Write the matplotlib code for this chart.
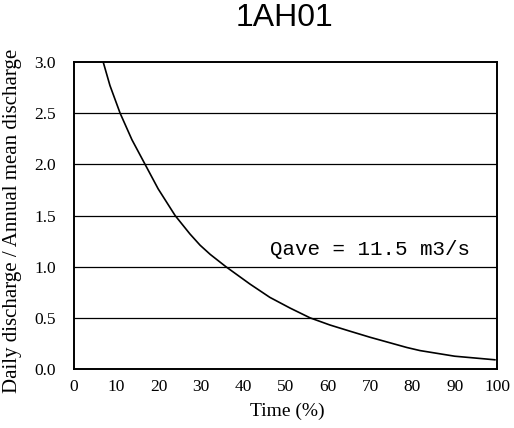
import matplotlib
matplotlib.use("Agg")
import matplotlib.pyplot as plt

title = "1AH01"
time_pct = [6.9, 8.5, 10.9, 13.7, 16.8, 19.9, 23.9, 27.4, 29.8, 32.2, 35.9, 41.6, 46.3, 51.1,
            55.8, 60.5, 65.2, 70.0, 78.7, 81.8, 90.0, 99.5]
ratio = [3.0, 2.77, 2.5, 2.24, 2.0, 1.76, 1.5, 1.32, 1.21, 1.12, 1.0, 0.83, 0.70, 0.595,
         0.50, 0.43, 0.37, 0.31, 0.21, 0.18, 0.125, 0.09]
x_ticks = [0, 10, 20, 30, 40, 50, 60, 70, 80, 90, 100]
y_ticks = [0.0, 0.5, 1.0, 1.5, 2.0, 2.5, 3.0]
y_tick_labels = ["0.0", "0.5", "1.0", "1.5", "2.0", "2.5", "3.0"]
annotation = "Qave = 11.5 m3/s"

W, H = 514, 428
fig = plt.figure(figsize=(W/100, H/100), dpi=100)
ax = fig.add_axes([74/W, 1-369/H, (497-74)/W, (369-62)/H])

for y in y_ticks[1:-1]:
    ax.axhline(y, color="black", lw=0.9, zorder=1)
ax.plot(time_pct, ratio, color="black", lw=1.2, zorder=2)

ax.set_xlim(0, 100)
ax.set_ylim(0, 3.0)
ax.set_xticks(x_ticks)
ax.set_xticklabels([str(t) for t in x_ticks], family="Liberation Serif", fontsize=12.5)
ax.set_yticks(y_ticks)
ax.set_yticklabels(y_tick_labels, family="Liberation Serif", fontsize=12.5)
ax.tick_params(axis="y", length=0, pad=13)
ax.tick_params(axis="x", length=0, pad=7)
for s in ax.spines.values():
    s.set_linewidth(1.4)

fig.text(287/W, 1-411/H, "Time (%)", family="Liberation Serif", fontsize=14,
         ha="center", va="center")
fig.text(13/W, 1-221/H, "Daily discharge / Annual mean discharge", family="Liberation Serif",
         fontsize=15, rotation=90, ha="center", va="center")
fig.text(284/W, 1-18/H, title, family="Liberation Sans", fontsize=23, ha="center", va="center")
ax.text(46.3, 1.11, annotation, family="Liberation Mono", fontsize=15, va="baseline", ha="left")

fig.savefig("out.png", dpi=100)
